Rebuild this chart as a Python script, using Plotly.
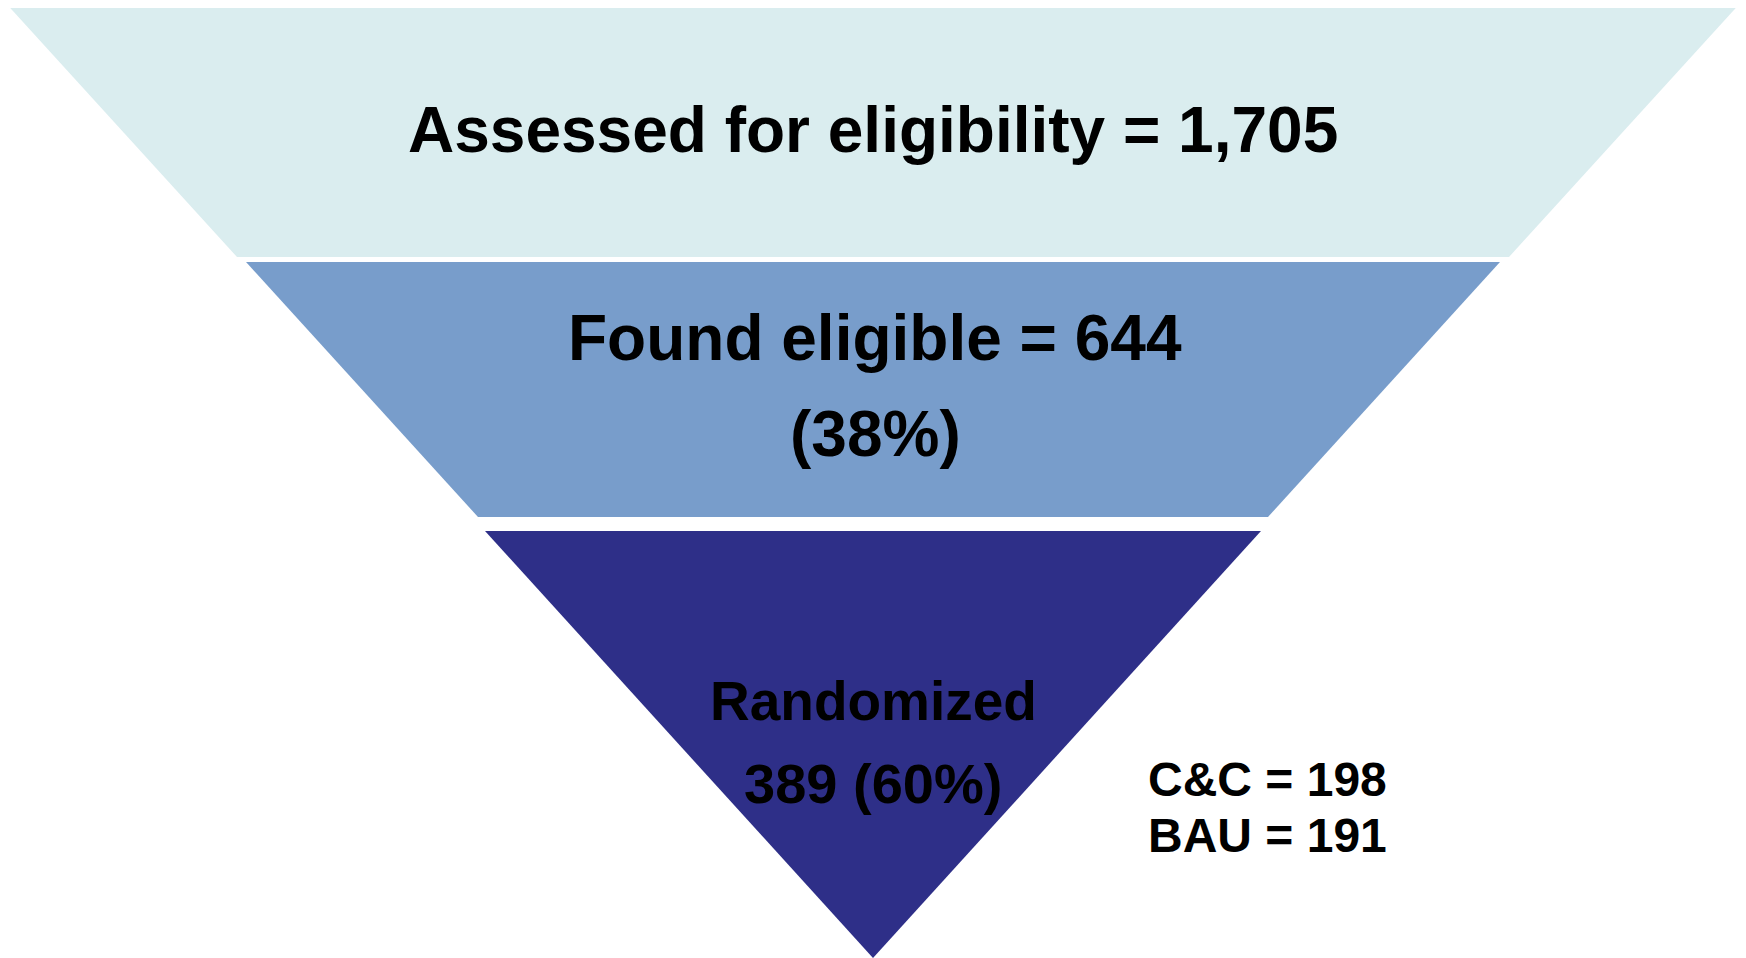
import plotly.graph_objects as go

# ---- data ----
stages = ["Assessed for eligibility", "Found eligible", "Randomized"]
counts = [1705, 644, 389]
arms = ["C&C", "BAU"]
arm_counts = [198, 191]

# ---- layout / geometry (pixel-space diagram) ----
W, H = 1746, 958
PAGE_PAD = 8  # default body margin of the html page
CX = 873
band_top = [5, 262, 531]
band_bot = [257, 517, 958]
half_top = [865.5, 627, 388]
half_bot = [636, 395, 0]
colors = ["#DAEDEF", "#789DCB", "#2E2F88"]

FONT = "Liberation Sans, Arial, Helvetica, sans-serif"

fig = go.Figure()
for i in range(len(stages)):
    xs = [CX - half_top[i], CX + half_top[i], CX + half_bot[i], CX - half_bot[i], CX - half_top[i]]
    ys = [band_top[i], band_top[i], band_bot[i], band_bot[i], band_top[i]]
    fig.add_trace(go.Scatter(x=xs, y=ys, mode="lines", fill="toself",
                             fillcolor=colors[i], line=dict(width=0, color=colors[i]),
                             hoverinfo="skip", showlegend=False))

pct = [None] + [round(100 * counts[i] / counts[i - 1]) for i in range(1, len(counts))]

labels = [
    (f"{stages[0]} = {counts[0]:,}", CX, 129.5, 64, "center"),
    (f"{stages[1]} = {counts[1]:,}", CX + 2, 338, 64, "center"),
    (f"({pct[1]}%)", CX + 2, 434, 64, "center"),
    (f"{stages[2]}", CX, 701, 55, "center"),
    (f"{counts[2]} ({pct[2]}%)", CX, 783, 56, "center"),
    (f"{arms[0]} = {arm_counts[0]}", 1146, 779, 48, "left"),
    (f"{arms[1]} = {arm_counts[1]}", 1146, 835, 48, "left"),
]
for txt, x, y, size, anchor in labels:
    fig.add_annotation(x=x, y=y, xref="x", yref="y", text=f"<b>{txt}</b>",
                       showarrow=False, xanchor=anchor, yanchor="middle",
                       font=dict(family=FONT, size=size, color="#000000"))

fig.update_xaxes(range=[PAGE_PAD, W], visible=False, fixedrange=True)
fig.update_yaxes(range=[H, PAGE_PAD], visible=False, fixedrange=True)
fig.update_layout(width=W - PAGE_PAD, height=H - PAGE_PAD,
                  margin=dict(l=0, r=0, t=0, b=0),
                  paper_bgcolor="white", plot_bgcolor="white")

fig.write_html("out.html", config={"displayModeBar": False})
